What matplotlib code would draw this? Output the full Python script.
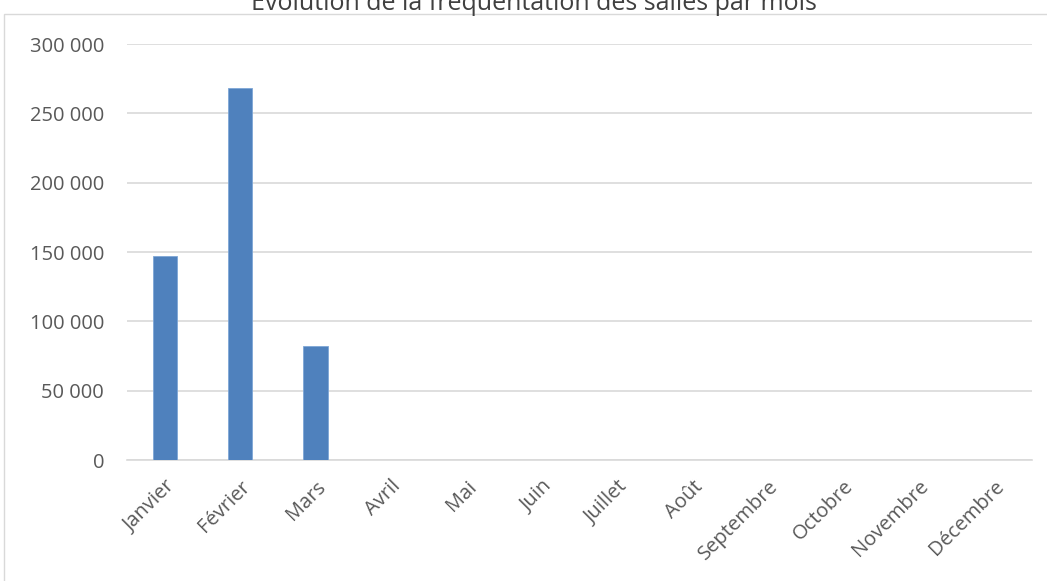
import matplotlib.pyplot as plt
from matplotlib.patches import Rectangle
from matplotlib.ticker import FuncFormatter

mois = ["Janvier", "Février", "Mars", "Avril", "Mai", "Juin", "Juillet",
        "Août", "Septembre", "Octobre", "Novembre", "Décembre"]
frequentation = [147000, 268000, 82000, 0, 0, 0, 0, 0, 0, 0, 0, 0]
y_ticks = [0, 50000, 100000, 150000, 200000, 250000, 300000]

W, H = 1047, 581
plt.rcParams['font.family'] = ['Open Sans', 'DejaVu Sans']
fig = plt.figure(figsize=(W / 100, H / 100), dpi=100)

# cadre du graphique
fig.patches.append(Rectangle((4 / W, -0.05), 1.1, 1 - 14 / H + 0.05,
                             transform=fig.transFigure, fill=False,
                             edgecolor='#d9d9d9', linewidth=1))

ax = fig.add_axes([127 / W, 1 - 460 / H, (1032 - 127) / W, (460 - 44) / H])
x = range(len(mois))
ax.bar(x, frequentation, width=0.32, color='#4f81bd', edgecolor='#7ea6d6',
       linewidth=0.6, zorder=3)

ax.set_xlim(-0.5, len(mois) - 0.5)
ax.set_ylim(0, 300000)
ax.set_yticks(y_ticks)
ax.yaxis.set_major_formatter(FuncFormatter(lambda v, p: f"{int(v):,}".replace(",", " ")))
ax.set_xticks(list(x))
ax.set_xticklabels(mois, rotation=45, ha='right', va='top', rotation_mode='anchor')
ax.grid(axis='y', color='#d9d9d9', linewidth=1.2, zorder=0)
for s in ['top', 'right', 'left']:
    ax.spines[s].set_visible(False)
ax.spines['bottom'].set_color('#d9d9d9')
ax.spines['bottom'].set_linewidth(1.2)
ax.tick_params(axis='both', length=0, colors='#595959', labelsize=14.5)
ax.tick_params(axis='y', pad=16.5)
ax.tick_params(axis='x', pad=12)

fig.text(534 / W, 1 - 10 / H, "Évolution de la fréquentation des salles par mois",
         ha='center', va='baseline', fontsize=18, color='#404040')

fig.savefig("out.png", dpi=100)
